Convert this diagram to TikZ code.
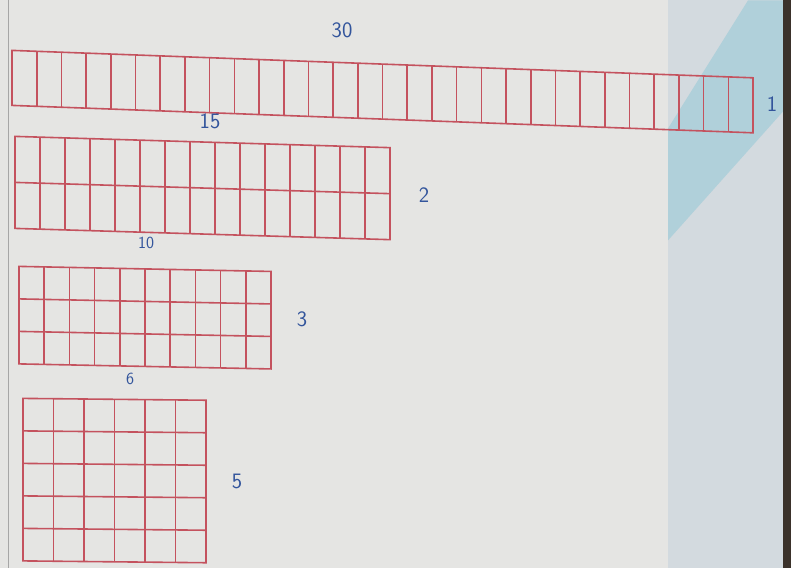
\documentclass[tikz,border=0pt]{standalone}
\usepackage{xcolor}

\definecolor{paper}{HTML}{E5E5E3}
\definecolor{tint}{HTML}{D3DADF}
\definecolor{sky}{HTML}{B0D0DA}
\definecolor{edge}{HTML}{3B322B}
\definecolor{gridred}{HTML}{C4525E}
\definecolor{penblue}{HTML}{33559C}

\tikzset{
  gridline/.style={draw=gridred, line width=1.6pt},
  lbl/.style={text=penblue, font=\sffamily\fontsize{22}{22}\selectfont}
}

\begin{document}
\begin{tikzpicture}[x=1pt,y=-1pt]
% Paper background
\fill[paper] (0,0) rectangle (791,568);
\fill[tint] (668,0) rectangle (784,568);
\fill[sky] (748,0) -- (784,0) -- (784,110) -- (668,240) -- (668,128) -- cycle;
\fill[edge] (783,0) rectangle (791,568);
\draw[gray!70, line width=0.8pt] (8,0) -- (8,568);

% Draw the four grids: name/x/y/cols/rows/cell width/cell height/slant
\foreach \nm/\gx/\gy/\cols/\rows/\cw/\ch/\sl in {
    one/12/50/30/1/24.7/55/-0.037,
    two/15/136/15/2/25/46/-0.03,
    three/19/266/10/3/25.2/32.5/-0.02,
    four/23/398/6/5/30.5/32.5/-0.01} {
  \begin{scope}[shift={(\gx,\gy)}, yslant=\sl]
    \coordinate (\nm-nw) at (0,0);
    \coordinate (\nm-se) at (\cols*\cw,\rows*\ch);
    \draw[gridline] (\nm-nw) rectangle (\nm-se);
    \foreach \i in {1,...,\cols} {
      \draw[gridline] (\i*\cw,0) -- (\i*\cw,\rows*\ch);
    }
    \ifnum\rows>1
      \foreach \j in {2,...,\rows} {
        \draw[gridline] (0,\j*\ch-\ch) -- (\cols*\cw,\j*\ch-\ch);
      }
    \fi
  \end{scope}
}

% Lengths on top
\node[lbl] (len30) at (342,30) {30};
\node[lbl] (len15) at (210,121) {15};
\node[lbl, font=\sffamily\fontsize{17}{17}\selectfont] (len10) at (146,243) {10};
\node[lbl, font=\sffamily\fontsize{17}{17}\selectfont] (len6) at (130,379) {6};

% Widths on the right
\node[lbl] (wid1) at (772,104) {1};
\node[lbl] (wid2) at (424,195) {2};
\node[lbl] (wid3) at (302,319) {3};
\node[lbl] (wid5) at (237,481) {5};
\end{tikzpicture}
\end{document}
